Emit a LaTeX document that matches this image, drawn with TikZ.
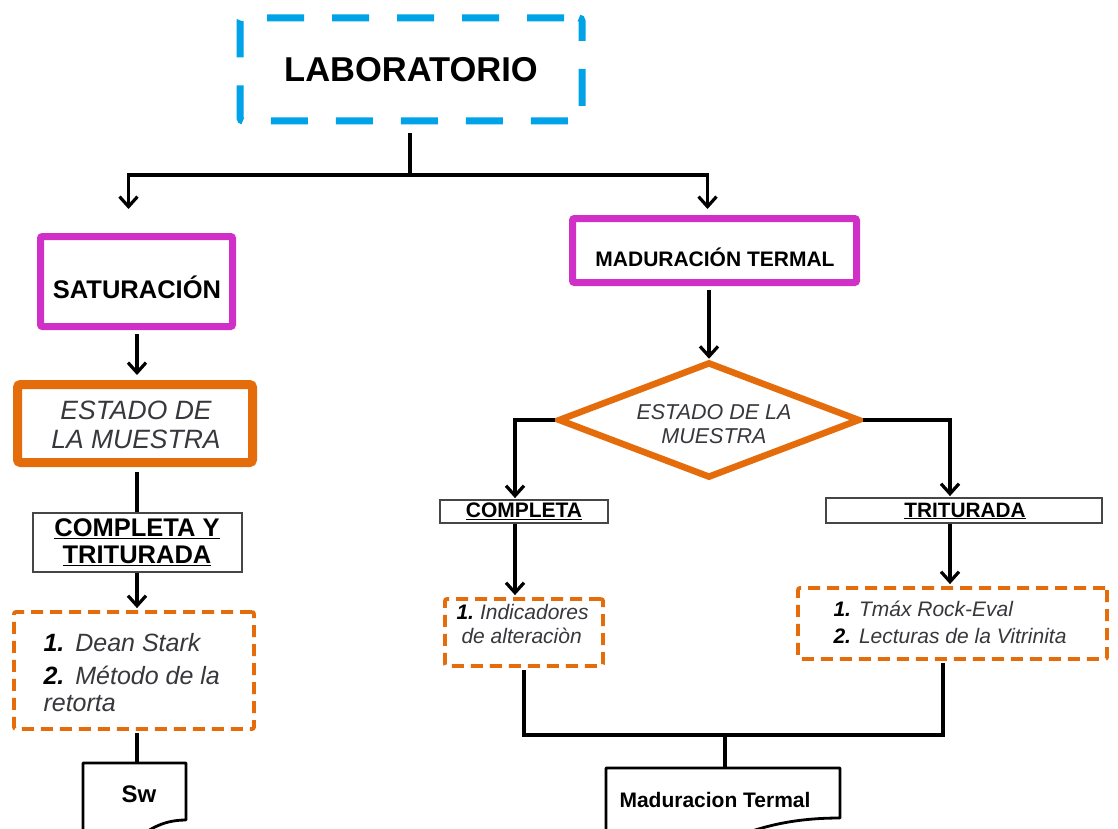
\documentclass[tikz,border=0pt]{standalone}
\usepackage{fontspec}
\setmainfont{Liberation Sans}
\usetikzlibrary{shapes.geometric,arrows.meta,calc}

\definecolor{labblue}{RGB}{0,162,232}
\definecolor{magbox}{RGB}{208,48,200}
\definecolor{orbox}{RGB}{228,108,10}
\definecolor{italtxt}{RGB}{55,55,60}
\definecolor{thinbox}{RGB}{70,70,70}

\newcommand{\fs}[1]{\fontsize{#1}{#1}\selectfont}
\newcommand{\ul}[1]{\underline{#1}}

\tikzset{
  conn/.style={line width=3.2pt, black},
  arr/.style={conn, -{Straight Barb[length=10pt,width=18pt,line width=3.2pt]}},
  magentabox/.style={draw=magbox, line width=7pt, rounded corners=2pt, inner sep=0pt},
  orangebox/.style={draw=orbox, line width=9pt, rounded corners=3pt, inner sep=0pt},
  plainbox/.style={draw=thinbox, line width=1.8pt, inner sep=0pt, fill=white},
  dashbox/.style={draw=orbox, line width=3.8pt, dash pattern=on 12pt off 7pt, rounded corners=2pt, inner sep=0pt},
  labbox/.style={draw=labblue, line width=7pt, dash pattern=on 37pt off 28pt, dash phase=-15pt, rounded corners=3pt, inner sep=0pt},
  docline/.style={line width=2.8pt, black, line join=round},
  boldtxt/.style={font=\bfseries, text=black},
  itxt/.style={font=\itshape, text=italtxt},
}

\begin{document}
\begin{tikzpicture}[x=1pt,y=-1pt]
\useasboundingbox[fill=white] (0,0) rectangle (1118,829);
\clip (0,0) rectangle (1118,829);

% column guides for the vertical connectors
\coordinate (colL) at (137,0);
\coordinate (colM) at (709,0);
\coordinate (colC) at (515,0);
\coordinate (colT) at (950,0);

% top box
\node[labbox, minimum width=342pt, minimum height=103pt, boldtxt] (lab) at (411,69.5) {\fs{34.5}LABORATORIO};

% left branch
\node[magentabox, minimum width=192pt, minimum height=90pt] (sat) at (136.5,281.5) {};
\node[boldtxt, anchor=center] (sattxt) at (137,287) {\fs{25.5}SATURACIÓN};

\node[orangebox, minimum width=235pt, minimum height=78pt] (estL) at (135,423.5) {};
\node[itxt, align=center] (estLtxt) at (136,425) {\fs{26.5}ESTADO DE\\[9pt]\fs{26.5}LA MUESTRA};

\node[plainbox, minimum width=209pt, minimum height=59pt] (ctL) at (137.5,542.5) {};
\node[boldtxt, align=center] (ctLtxt) at (137,542) {\fs{25.5}\ul{COMPLETA Y}\\[6pt]\fs{25.5}\ul{TRITURADA}};

\node[dashbox, minimum width=240pt, minimum height=117pt] (dsL) at (134,670.5) {};
\node[itxt, anchor=west] (dsL1) at (40,643) {\fs{25}\textbf{\textit{\color{black}1.}}\hspace{11pt}Dean Stark};
\node[itxt, anchor=west] (dsL2) at (40,675) {\fs{25}\textbf{\textit{\color{black}2.}}\hspace{11pt}Método de la};
\node[itxt, anchor=west] (dsL3) at (40,704) {\fs{25}retorta};

% Sw document
\coordinate (swtop) at (137,763);
\draw[docline, fill=white] (83,763) -- (186,763) -- (186,820)
  .. controls (134,820) and (134,867) .. (83,840) -- cycle;
\node[boldtxt] (swtxt) at (139,794) {\fs{24}Sw};

% right branch
\node[magentabox, minimum width=284pt, minimum height=64pt] (mad) at (714.5,250.5) {};
\node[boldtxt] (madtxt) at (715,257) {\fs{21}MADURACIÓN TERMAL};

\node[diamond, draw=orbox, line width=6.5pt, minimum width=302pt, minimum height=116pt, inner sep=0pt] (dia) at (709,420) {};
\node[itxt, align=center] (diatxt) at (714,424) {\fs{21.5}ESTADO DE LA\\[8pt]\fs{21.5}MUESTRA};

\node[plainbox, minimum width=168pt, minimum height=23pt] (ctC) at (524,511.5) {};
\node[boldtxt] (ctCtxt) at (524,511) {\fs{21}\ul{COMPLETA}};

\node[plainbox, minimum width=276pt, minimum height=25pt] (ctT) at (964,510.5) {};
\node[boldtxt] (ctTtxt) at (965,511) {\fs{20.8}\ul{TRITURADA}};

\node[dashbox, minimum width=158pt, minimum height=67pt] (dsC) at (524,632.5) {};
\node[itxt, anchor=west] (dsC1) at (453,612) {\fs{21}\textbf{\textit{\color{black}1.}}\hspace{6pt}Indicadores};
\node[itxt, anchor=west] (dsC2) at (458,636) {\fs{21}de alteraciòn};

\node[dashbox, minimum width=309pt, minimum height=71pt] (dsT) at (952.5,623.5) {};
\node[itxt, anchor=west] (dsT1) at (830,609) {\fs{21}\textbf{\textit{\color{black}1.}}\hspace{8pt}Tmáx Rock-Eval};
\node[itxt, anchor=west] (dsT2) at (830,636) {\fs{21}\textbf{\textit{\color{black}2.}}\hspace{8pt}Lecturas de la Vitrinita};

% Maduracion Termal document
\coordinate (mdtop) at (725,768);
\draw[docline, fill=white] (606,768) -- (840,768) -- (840,818)
  .. controls (723,818) and (723,870) .. (606,845) -- cycle;
\node[boldtxt] (mdtxt) at (715,800) {\fs{21}Maduracion Termal};

% connectors
\coordinate (split) at (410,175);
\draw[conn] ([yshift=-9pt]lab.south -| split) -- (split);
\draw[arr] (split) -| ([xshift=-8pt,yshift=24pt]sat.north);
\draw[arr] (split) -| ([xshift=-7pt,yshift=6pt]mad.north);
\draw[arr] ([yshift=-4pt]sat.south -| colL) -- ([yshift=5pt]estL.north -| colL);
\draw[conn] ([yshift=-5pt]estL.south -| colL) -- (ctL.north -| colL);
\draw[arr] (ctL.south -| colL) -- ([yshift=2pt]dsL.north -| colL);
\draw[conn] ([yshift=-2pt]dsL.south -| swtop) -- (swtop);

\draw[arr] ([yshift=-4pt]mad.south -| colM) -- (dia.north);
\draw[arr] (dia.west) -| ([yshift=1pt]ctC.north -| colC);
\draw[arr] (dia.east) -| ([yshift=1pt]ctT.north -| colT);
\draw[arr] (ctC.south -| colC) -- ([yshift=2pt]dsC.north -| colC);
\draw[arr] (ctT.south -| colT) -- ([yshift=2pt]dsT.north -| colT);

\coordinate (join) at (725,735);
\draw[conn] ([yshift=-2pt]dsC.south) -- (dsC.south |- join) -- (join)
  -- ([xshift=-9.5pt]dsT.south |- join) -- ([xshift=-9.5pt,yshift=-2pt]dsT.south);
\draw[conn] (join) -- (mdtop);
\end{tikzpicture}
\end{document}
